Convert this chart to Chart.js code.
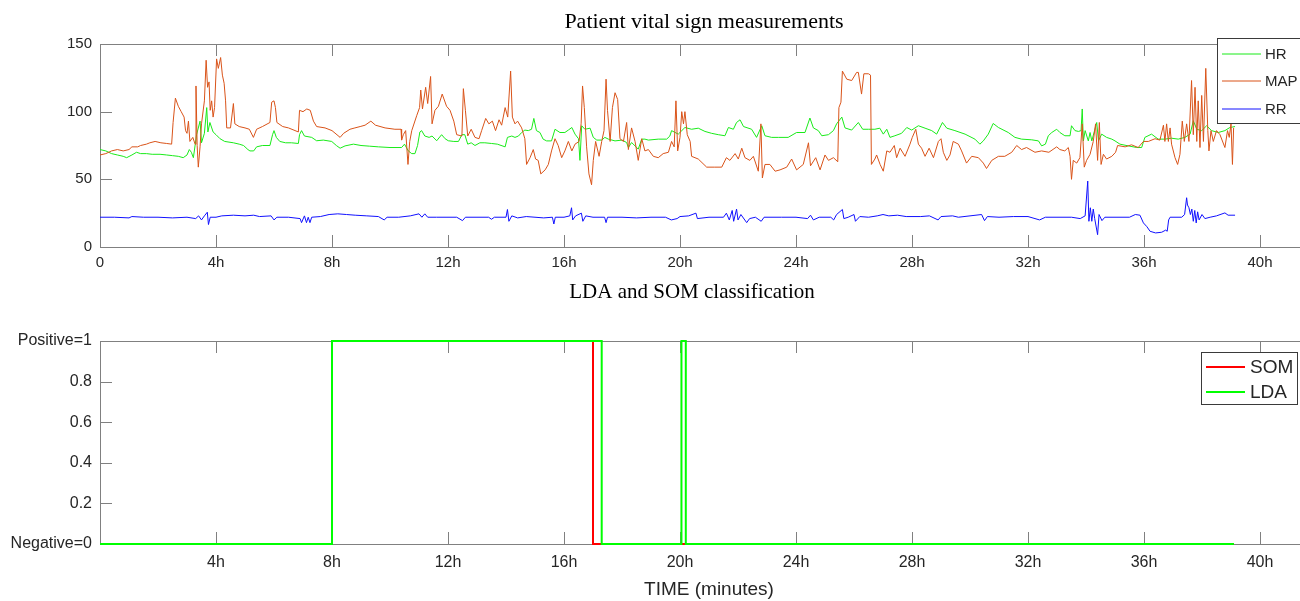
<!DOCTYPE html>
<html>
<head>
<meta charset="utf-8">
<title>Patient vital sign measurements</title>
<script src="https://cdn.jsdelivr.net/npm/chart.js@4.4.1/dist/chart.umd.min.js"></script>
<style>
    html, body { margin: 0; padding: 0; background: #fff; overflow: hidden; width: 1300px; height: 601px; }
    canvas { position: absolute; left: 0; }
    #vitals { top: 0; }
    #classes { top: 270px; }
</style>
</head>
<body>
<canvas id="vitals" width="1320" height="290"></canvas>
<canvas id="classes" width="1320" height="331"></canvas>
<script>
// tick positions (hours) and labels
var hourTicks = [0, 4, 8, 12, 16, 20, 24, 28, 32, 36, 40];
var classHourTicks = [4, 8, 12, 16, 20, 24, 28, 32, 36, 40];
var vitalTicks = [0, 50, 100, 150];
var classTicks = [0, 0.2, 0.4, 0.6, 0.8, 1];
var classTickLabels = ['Negative=0', '0.2', '0.4', '0.6', '0.8', 'Positive=1'];

// mean arterial pressure
var mapHours = [
    0.0, 0.2, 0.4, 0.6, 0.8, 1.0, 1.1, 1.3, 1.4, 1.6,
    1.72, 1.9, 2.1, 2.3, 2.47, 2.52, 2.6, 2.7, 2.8, 2.9,
    2.95, 3.0, 3.05, 3.1, 3.2, 3.28, 3.31, 3.35, 3.39, 3.45,
    3.5, 3.6, 3.66, 3.71, 3.76, 3.8, 3.85, 3.9, 3.95, 4.02,
    4.08, 4.16, 4.22, 4.28, 4.33, 4.37, 4.5, 4.6, 4.65, 4.8,
    5.0, 5.15, 5.29, 5.4, 5.6, 5.86, 5.92, 6.0, 6.05, 6.1,
    6.3, 6.5, 6.84, 6.88, 7.0, 7.13, 7.25, 7.36, 7.47, 7.76,
    8.0, 8.28, 8.4, 8.62, 8.79, 8.97, 9.14, 9.34, 9.5, 9.83,
    10.17, 10.38, 10.4, 10.46, 10.54, 10.62, 10.68, 10.75, 10.92, 11.02,
    11.06, 11.12, 11.23, 11.3, 11.4, 11.45, 11.55, 11.67, 11.8, 11.95,
    12.07, 12.2, 12.3, 12.48, 12.53, 12.6, 12.68, 12.8, 12.93, 13.07,
    13.16, 13.3, 13.41, 13.53, 13.64, 13.76, 13.85, 13.97, 14.06, 14.16,
    14.22, 14.31, 14.4, 14.54, 14.65, 14.71, 14.83, 14.94, 15.02, 15.11,
    15.2, 15.35, 15.46, 15.57, 15.69, 15.8, 15.92, 16.03, 16.15, 16.27,
    16.38, 16.52, 16.59, 16.64, 16.7, 16.78, 16.86, 16.95, 17.01, 17.09,
    17.21, 17.3, 17.38, 17.45, 17.5, 17.59, 17.67, 17.76, 17.85, 17.93,
    18.05, 18.16, 18.22, 18.33, 18.45, 18.56, 18.68, 18.79, 18.91, 19.08,
    19.25, 19.42, 19.6, 19.71, 19.8, 19.86, 19.92, 20.0, 20.06, 20.12,
    20.17, 20.25, 20.35, 20.4, 20.63, 20.92, 21.2, 21.44, 21.6, 21.72,
    21.9, 22.01, 22.13, 22.24, 22.41, 22.53, 22.7, 22.79, 22.84, 22.93,
    23.1, 23.28, 23.45, 23.68, 23.85, 24.02, 24.25, 24.43, 24.5, 24.68,
    24.83, 25.0, 25.12, 25.29, 25.44, 25.48, 25.55, 25.6, 25.75, 25.92,
    26.09, 26.15, 26.26, 26.34, 26.5, 26.57, 26.6, 26.72, 26.78, 26.9,
    27.01, 27.13, 27.24, 27.39, 27.47, 27.59, 27.76, 27.93, 28.01, 28.13,
    28.22, 28.33, 28.45, 28.59, 28.74, 28.91, 29.0, 29.08, 29.2, 29.31,
    29.42, 29.6, 29.71, 29.88, 30.06, 30.29, 30.46, 30.57, 30.75, 30.98,
    31.2, 31.44, 31.61, 31.78, 31.95, 32.24, 32.47, 32.72, 32.99, 33.1,
    33.27, 33.39, 33.45, 33.5, 33.56, 33.68, 33.79, 33.87, 33.94, 34.02,
    34.14, 34.25, 34.33, 34.4, 34.46, 34.52, 34.6, 34.71, 34.89, 35.02,
    35.09, 35.35, 35.57, 35.8, 35.98, 36.15, 36.38, 36.55, 36.67, 36.72,
    36.78, 36.84, 36.9, 36.95, 37.07, 37.16, 37.24, 37.32, 37.39, 37.47,
    37.55, 37.64, 37.7, 37.76, 37.82, 37.87, 37.93, 37.99, 38.05, 38.13,
    38.2, 38.24, 38.31, 38.39, 38.5, 38.62, 38.79, 38.88, 38.94, 39.0,
    39.05, 39.09
];
var mapValues = [
    68, 69, 71, 72, 71, 72, 74, 74, 75, 76,
    77, 78, 77, 76.5, 76, 92, 110, 104, 100, 96,
    86, 84, 93, 78, 81, 76, 119, 75, 59, 74,
    91, 108, 138, 118, 122, 101, 108, 96, 103, 139,
    132, 140, 127, 121, 108, 88, 88, 106, 91, 89,
    88, 87, 81, 87, 89, 92, 107, 108, 103, 92,
    89, 88, 85, 101, 100, 102, 101, 93, 89, 88,
    86, 81, 84, 87, 88, 89, 90, 93, 90, 88,
    87, 87, 79, 83, 86, 61, 78, 86, 97, 103,
    116, 102, 118, 106, 126, 91, 101, 104, 113, 104,
    101, 93, 83, 82, 117, 101, 82, 87, 81, 80,
    86, 95, 91, 93, 86, 94, 90, 103, 96, 130,
    96, 91, 93, 88, 80, 61, 66, 72, 65, 64,
    54, 57, 61, 71, 80, 75, 66, 71, 78, 71,
    76, 78, 91, 119, 103, 74, 54, 46, 64, 78,
    67, 78, 86, 124, 101, 78, 103, 114, 109, 80,
    78, 92, 72, 88, 78, 64, 80, 71, 72, 67,
    66, 69, 70, 78, 74, 108, 71, 81, 100, 91,
    100, 83, 78, 67, 65, 59, 59, 59, 66, 64,
    69, 65, 73, 66, 64, 67, 56, 91, 51, 61,
    61, 56, 57, 59, 65, 57, 61, 77, 60, 66,
    57, 68, 64, 66, 63, 103, 107, 130, 124, 123,
    129, 129, 113, 128, 128, 127, 61, 65, 68, 61,
    56, 71, 70, 75, 66, 73, 67, 76, 81, 87,
    76, 73, 67, 73, 66, 78, 80, 70, 64, 68,
    78, 76, 71, 62, 67, 66, 62, 58, 64, 67,
    67, 70, 75, 72, 73.5, 70, 71, 70, 74, 72,
    71, 73.5, 67, 50, 64, 62, 66, 91, 59, 64,
    68.5, 78, 91, 64, 92, 61, 68.5, 65, 67, 70,
    75, 74, 75.5, 73.5, 78, 78, 80, 79, 90, 78,
    91, 78, 88, 76, 66, 61, 68.5, 93, 78, 91,
    78, 123, 83, 118, 78, 108, 73.5, 112, 78, 132,
    86, 71, 86, 78, 86, 83, 73.5, 86, 81, 91,
    61, 88
];

// heart rate
var hrHours = [
    0.0, 0.2, 0.4, 0.6, 0.8, 0.92, 1.1, 1.26, 1.4, 1.6,
    1.8, 2.07, 2.3, 2.5, 2.7, 2.87, 3.0, 3.08, 3.15, 3.22,
    3.33, 3.45, 3.5, 3.6, 3.68, 3.72, 3.79, 3.9, 4.0, 4.14,
    4.3, 4.6, 4.8, 4.95, 5.1, 5.17, 5.3, 5.4, 5.6, 5.86,
    5.95, 6.0, 6.08, 6.2, 6.4, 6.6, 6.84, 6.88, 6.95, 7.05,
    7.3, 7.47, 7.7, 7.99, 8.15, 8.28, 8.45, 8.74, 9.0, 9.3,
    9.6, 10.0, 10.4, 10.5, 10.63, 10.75, 10.86, 10.95, 11.03, 11.09,
    11.2, 11.35, 11.45, 11.61, 11.78, 11.9, 12.01, 12.2, 12.36, 12.48,
    12.58, 12.68, 12.8, 12.93, 13.1, 13.27, 13.5, 13.7, 13.97, 14.05,
    14.2, 14.31, 14.43, 14.54, 14.65, 14.77, 14.88, 14.96, 15.05, 15.17,
    15.28, 15.4, 15.57, 15.69, 15.86, 16.03, 16.15, 16.27, 16.38, 16.5,
    16.55, 16.61, 16.72, 16.9, 17.01, 17.13, 17.3, 17.41, 17.53, 17.76,
    18.0, 18.16, 18.22, 18.33, 18.45, 18.56, 18.68, 18.79, 18.91, 19.25,
    19.54, 19.65, 19.71, 19.94, 20.17, 20.4, 20.63, 20.86, 21.09, 21.32,
    21.55, 21.67, 21.84, 21.95, 22.07, 22.19, 22.47, 22.64, 22.82, 22.93,
    23.16, 23.39, 23.73, 24.02, 24.31, 24.48, 24.6, 24.77, 24.89, 25.12,
    25.29, 25.4, 25.58, 25.69, 25.92, 26.15, 26.3, 26.5, 26.72, 26.89,
    27.01, 27.13, 27.24, 27.41, 27.64, 27.82, 27.99, 28.22, 28.45, 28.68,
    28.85, 29.05, 29.2, 29.48, 29.83, 30.17, 30.34, 30.46, 30.63, 30.8,
    30.98, 31.32, 31.55, 31.78, 32.13, 32.36, 32.47, 32.6, 32.7, 32.82,
    32.99, 33.1, 33.27, 33.45, 33.5, 33.62, 33.74, 33.83, 33.87, 33.91,
    33.97, 34.08, 34.14, 34.2, 34.37, 34.43, 34.54, 34.71, 34.89, 35.0,
    35.17, 35.46, 35.75, 35.92, 36.03, 36.26, 36.49, 36.72, 36.95, 37.18,
    37.41, 37.59, 37.7, 37.82, 37.99, 38.16, 38.33, 38.56, 38.79, 38.96,
    39.14
];
var hrValues = [
    72, 71, 69, 68, 67, 66, 68, 70, 69, 69,
    68.5, 68.5, 68, 67.5, 67, 66, 68, 72, 70, 66,
    83, 93, 77, 84, 103, 85, 92, 85, 83, 80,
    78, 77, 76, 75, 72, 71, 71, 74, 75, 75,
    83, 86, 81, 78, 77, 77, 76.5, 83, 86, 82,
    81, 78.5, 79, 78, 75, 73, 74.7, 76, 75, 74.5,
    74, 73.5, 73.5, 76, 71, 69, 69, 75, 85, 86,
    82, 81, 82, 78.5, 83, 80, 78.5, 78, 78, 83,
    83, 76, 77, 75, 77, 77, 76.5, 76, 74, 81,
    82, 81, 82, 84.6, 86.4, 86, 87, 95, 86, 84.6,
    79.7, 78.4, 78.4, 87, 84.6, 84.6, 86.4, 88.3, 83.4, 80,
    64, 89.6, 87, 87.8, 81, 79, 79, 81, 79.7, 78.4,
    79, 77.2, 73.5, 77.2, 74.7, 72.3, 79.7, 79.7, 79, 79.7,
    79.7, 82, 86, 83.4, 88.3, 87, 87.8, 85.4, 84, 83,
    82.2, 88.3, 87, 92, 94, 89, 87, 81, 89.6, 82.2,
    81, 81, 81, 84.6, 84.6, 95.3, 88, 86, 82.2, 83,
    86, 91, 96, 88, 86.4, 92, 87, 87, 87, 87.8,
    83.4, 87, 81, 82.2, 84, 88.3, 86.4, 89.6, 87.8, 86,
    83.4, 92, 87.8, 86, 83.4, 79.7, 76, 78.4, 83.4, 91.3,
    88.3, 84.6, 81, 79.7, 79.2, 78.4, 74.7, 76, 82.2, 84.6,
    87, 84.6, 82.2, 82.2, 89.6, 86, 85.4, 86, 102, 78.4,
    86, 78.4, 84.6, 78.4, 92, 78.4, 83.4, 81, 79.7, 78.4,
    76, 74.7, 73.5, 73.5, 81, 83.4, 79.7, 79.7, 80.4, 79.7,
    81, 83.4, 93.3, 87, 86, 89.6, 86, 84.6, 86, 88.3,
    89
];

// respiratory rate
var rrHours = [
    0, 0.5, 1.0, 1.1, 1.5, 2.0, 2.5, 3.0, 3.3, 3.4,
    3.5, 3.6, 3.7, 3.74, 3.8, 4.0, 4.2, 4.6, 5.0, 5.3,
    5.5, 5.9, 6.0, 6.1, 6.5, 6.9, 6.95, 7.05, 7.12, 7.18,
    7.24, 7.3, 7.6, 7.9, 8.2, 8.5, 8.8, 9.2, 9.6, 9.8,
    9.9, 10.3, 10.7, 11.0, 11.1, 11.2, 11.3, 11.6, 12.0, 12.3,
    12.5, 12.6, 13.0, 13.4, 13.5, 13.6, 14.0, 14.05, 14.1, 14.2,
    14.4, 14.7, 15.0, 15.3, 15.6, 15.65, 15.7, 16.0, 16.2, 16.26,
    16.3, 16.4, 16.6, 16.65, 16.75, 17.0, 17.4, 17.45, 17.5, 18.0,
    18.5, 19.0, 19.5, 19.7, 19.9, 20.0, 20.3, 20.55, 20.6, 21.0,
    21.5, 21.6, 21.7, 21.8, 21.85, 21.95, 22.0, 22.1, 22.3, 22.4,
    22.6, 22.8, 22.9, 23.5, 24.0, 24.4, 24.5, 24.6, 24.8, 25.2,
    25.3, 25.4, 25.6, 25.65, 25.8, 26.0, 26.05, 26.2, 26.5, 26.8,
    27.0, 27.2, 27.5, 27.8, 28.3, 28.6, 28.9, 29.0, 29.4, 29.6,
    30.0, 30.4, 30.5, 30.6, 31.0, 31.5, 32.0, 32.4, 32.6, 33.0,
    33.5, 33.8, 33.97, 34.06, 34.1, 34.15, 34.2, 34.25, 34.3, 34.4,
    34.45, 34.55, 34.65, 35.0, 35.5, 35.7, 35.86, 35.98, 36.1, 36.21,
    36.4, 36.61, 36.75, 36.8, 36.85, 36.9, 37.3, 37.4, 37.47, 37.5,
    37.55, 37.6, 37.65, 37.7, 37.75, 37.8, 37.85, 37.9, 38.0, 38.1,
    38.28, 38.5, 38.79, 38.9, 39.14
];
var rrValues = [
    22, 22, 21.5, 22.5, 22, 22, 21.5, 22, 21, 23,
    20, 23, 25.7, 16.6, 22, 22, 23, 23.5, 23, 23.5,
    22.5, 23, 20, 22, 22, 21, 18, 23, 18, 22,
    18, 22, 22.5, 24, 24.5, 24, 23.5, 23, 22.5, 20,
    22, 22, 23, 24.5, 22, 24.5, 22, 22, 22, 22,
    19.5, 22, 22, 22, 20.5, 22, 22, 27.7, 19, 23,
    21.5, 22.5, 22, 21.5, 22, 17, 22, 22, 23, 29,
    20, 23, 25, 19, 23, 22, 22, 18, 22, 22,
    21.5, 22, 22, 20, 21, 22.5, 23, 25, 21, 22,
    22, 25, 20, 27, 19, 28, 20, 24, 18, 21,
    22, 19, 22, 22, 22, 21, 23.5, 20, 22, 22,
    20, 24, 27.7, 21, 22, 24, 19, 22.5, 22, 23,
    24, 23, 23.5, 22.5, 22.5, 23, 20, 22.5, 23, 22,
    23, 24, 19.5, 22.5, 22, 22.5, 22.5, 20, 22, 22,
    22, 21, 23, 48.7, 19, 29, 19, 28, 21, 9.1,
    24, 19.5, 22, 22, 22, 24, 23.5, 17.8, 15, 11.6,
    10.4, 10.9, 12.5, 11.6, 20, 22, 22, 24, 36.4, 31,
    29, 24, 28, 19, 27, 17.8, 26, 20, 24, 21,
    22, 23, 25.2, 23.5, 23.5
];

// classifier output, value holds from each time until the next one
var somHours = [0, 8.0, 17.0, 39.1];
var somValues = [0, 1, 0, 0];
var ldaHours = [0, 8.0, 17.3, 20.05, 20.2, 39.1];
var ldaValues = [0, 1, 0, 1, 0, 0];

var axisText = '#262626';
var boxColor = '#808080';

function makePoints(xs, ys) {
    return xs.map(function(x, i) { return { x: x, y: ys[i] }; });
}

function hourLabel(v) {
    return v === 0 ? '0' : v + 'h';
}

// MATLAB style box with inward ticks on every side, under the data
var matlabAxes = {
    id: 'matlabAxes',
    beforeDatasetsDraw: function(chart) {
        var ctx = chart.ctx, a = chart.chartArea;
        var xs = chart.scales.x, ys = chart.scales.y;
        var len = 12;
        ctx.save();
        ctx.strokeStyle = boxColor;
        ctx.lineWidth = 1;
        ctx.beginPath();
        xs.ticks.forEach(function(t) {
            var px = Math.round(xs.getPixelForValue(t.value)) + 0.5;
            ctx.moveTo(px, a.bottom); ctx.lineTo(px, a.bottom - len);
            ctx.moveTo(px, a.top); ctx.lineTo(px, a.top + len);
        });
        ys.ticks.forEach(function(t) {
            var py = Math.round(ys.getPixelForValue(t.value)) + 0.5;
            ctx.moveTo(a.left, py); ctx.lineTo(a.left + len, py);
            ctx.moveTo(a.right, py); ctx.lineTo(a.right - len, py);
        });
        ctx.stroke();
        ctx.strokeRect(Math.round(a.left) + 0.5, Math.round(a.top) + 0.5,
            Math.round(a.right - a.left), Math.round(a.bottom - a.top));
        ctx.restore();
    }
};

// serif title like the LaTeX interpreter
var serifTitle = {
    id: 'serifTitle',
    afterDraw: function(chart, args, o) {
        if (!o.text) return;
        var ctx = chart.ctx;
        ctx.save();
        ctx.font = o.size + 'px "Liberation Serif", serif';
        ctx.fillStyle = '#000';
        ctx.textAlign = 'center';
        ctx.textBaseline = 'alphabetic';
        ctx.fillText(o.text, o.x, o.y);
        ctx.restore();
    }
};

// boxed legend inside the axes
var boxLegend = {
    id: 'boxLegend',
    afterDraw: function(chart, args, o) {
        if (!o.rows) return;
        var ctx = chart.ctx;
        ctx.save();
        ctx.fillStyle = '#fff';
        ctx.fillRect(o.x, o.y, o.w, o.h);
        ctx.strokeStyle = '#3a3a3a';
        ctx.lineWidth = 1;
        ctx.strokeRect(o.x + 0.5, o.y + 0.5, o.w, o.h);
        ctx.font = o.font;
        ctx.textBaseline = 'middle';
        ctx.textAlign = 'left';
        chart.data.datasets.forEach(function(ds, i) {
            var ry = o.rows[i];
            ctx.strokeStyle = ds.borderColor;
            ctx.lineWidth = ds.borderWidth;
            ctx.beginPath();
            ctx.moveTo(o.lineX0, ry);
            ctx.lineTo(o.lineX1, ry);
            ctx.stroke();
            ctx.fillStyle = axisText;
            ctx.fillText(ds.label, o.textX, ry + 1);
        });
        ctx.restore();
    }
};

function buildOptions(cfg) {
    return {
        responsive: false,
        animation: false,
        devicePixelRatio: 1,
        events: [],
        layout: { padding: { top: cfg.top, right: 2, left: 0, bottom: 0 } },
        plugins: {
            legend: { display: false },
            tooltip: { enabled: false },
            serifTitle: cfg.title,
            boxLegend: cfg.legend
        },
        scales: {
            x: {
                type: 'linear',
                min: 0,
                max: 42,
                afterBuildTicks: function(s) {
                    s.ticks = cfg.xTicks.map(function(v) { return { value: v }; });
                },
                afterFit: function(s) { s.height = cfg.xHeight; },
                grid: { display: false, drawTicks: false },
                border: { display: false },
                ticks: {
                    padding: cfg.xPad,
                    color: axisText,
                    maxRotation: 0,
                    autoSkip: false,
                    font: { family: 'Liberation Sans', size: cfg.tickSize },
                    callback: hourLabel
                },
                title: cfg.xTitle || { display: false }
            },
            y: {
                type: 'linear',
                min: cfg.yTicks[0],
                max: cfg.yTicks[cfg.yTicks.length - 1],
                afterBuildTicks: function(s) {
                    s.ticks = cfg.yTicks.map(function(v) { return { value: v }; });
                },
                afterFit: function(s) { s.width = 100; },
                grid: { display: false, drawTicks: false },
                border: { display: false },
                ticks: {
                    padding: 8,
                    color: axisText,
                    font: { family: 'Liberation Sans', size: cfg.tickSize },
                    callback: cfg.yLabel
                }
            }
        }
    };
}

function initCharts() {
    new Chart(document.getElementById('vitals'), {
        type: 'line',
        data: {
            datasets: [
                { label: 'HR', data: makePoints(hrHours, hrValues), borderColor: 'rgb(25,235,25)', borderWidth: 1, pointRadius: 0, order: 3 },
                { label: 'MAP', data: makePoints(mapHours, mapValues), borderColor: '#D95319', borderWidth: 1, pointRadius: 0, order: 2 },
                { label: 'RR', data: makePoints(rrHours, rrValues), borderColor: '#1010FF', borderWidth: 1, pointRadius: 0, order: 1 }
            ]
        },
        options: buildOptions({
            top: 44,
            xHeight: 43,
            xPad: 7,
            tickSize: 15,
            xTicks: hourTicks,
            yTicks: vitalTicks,
            yLabel: function(v) { return String(v); },
            title: { text: 'Patient vital sign measurements', x: 704, y: 28, size: 22 },
            legend: { x: 1217, y: 38, w: 100, h: 85, rows: [54, 81, 109], lineX0: 1222, lineX1: 1261, textX: 1265, font: '15px "Liberation Sans"' }
        }),
        plugins: [matlabAxes, serifTitle, boxLegend]
    });

    new Chart(document.getElementById('classes'), {
        type: 'line',
        data: {
            datasets: [
                { label: 'SOM', data: makePoints(somHours, somValues), stepped: true, clip: 4, borderColor: '#FF0000', borderWidth: 2, pointRadius: 0, order: 1 },
                { label: 'LDA', data: makePoints(ldaHours, ldaValues), stepped: true, clip: 4, borderColor: '#00FF00', borderWidth: 2, pointRadius: 0, order: 0 }
            ]
        },
        options: buildOptions({
            top: 71,
            xHeight: 57,
            xPad: 9,
            tickSize: 16,
            xTicks: classHourTicks,
            yTicks: classTicks,
            yLabel: function(v, i) { return classTickLabels[i]; },
            xTitle: { display: true, text: 'TIME (minutes)', color: axisText, padding: { top: 0, bottom: 0 }, font: { family: 'Liberation Sans', size: 19 } },
            title: { text: 'LDA and SOM classification', x: 692, y: 28, size: 21 },
            legend: { x: 1201, y: 82, w: 96, h: 52, rows: [97, 122], lineX0: 1206, lineX1: 1245, textX: 1250, font: '19px "Liberation Sans"' }
        }),
        plugins: [matlabAxes, serifTitle, boxLegend]
    });
}

if (document.readyState === 'loading') {
    document.addEventListener('DOMContentLoaded', initCharts);
} else {
    initCharts();
}
</script>
</body>
</html>
